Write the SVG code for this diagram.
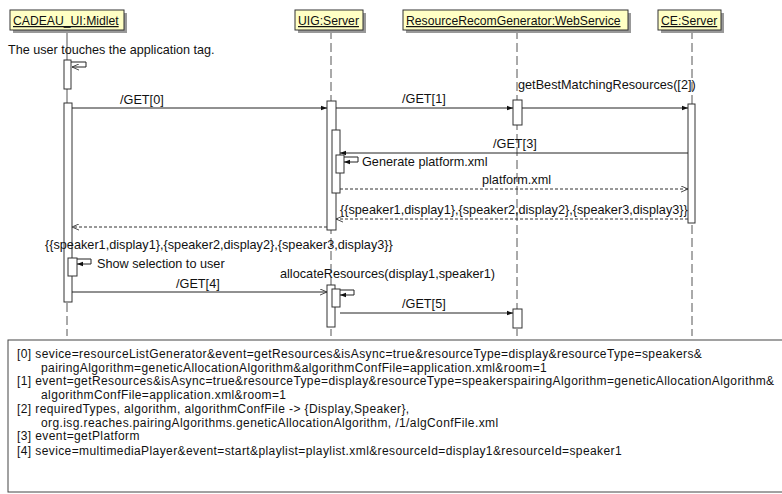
<svg xmlns="http://www.w3.org/2000/svg" width="782" height="494" viewBox="0 0 782 494">
<style>
text{font-family:"Liberation Sans",Arial,sans-serif;fill:#111}
.hd{font-size:12.2px;text-decoration:underline}
.lb{font-size:12.7px}
.nt{font-size:12px;letter-spacing:0.4px}
.life{stroke:#555;stroke-width:1;stroke-dasharray:9,4;fill:none}
.act{fill:#fff;stroke:#333;stroke-width:1}
.msg{stroke:#222;stroke-width:1;fill:none}
.ret{stroke:#333;stroke-width:1;stroke-dasharray:3,2;fill:none}
.box{fill:#ffffc4;stroke:#333;stroke-width:1}
.shd{fill:#999}
</style>
<defs>
<marker id="fa" viewBox="0 0 8 8" refX="8" refY="4" markerWidth="6" markerHeight="6" orient="auto" markerUnits="userSpaceOnUse">
<path d="M0,1 L8,4 L0,7 z" fill="#111"/>
</marker>
<marker id="oa" viewBox="0 0 8 8" refX="8" refY="4" markerWidth="7" markerHeight="7" orient="auto" markerUnits="userSpaceOnUse">
<path d="M0,0.5 L8,4 L0,7.5" fill="none" stroke="#333" stroke-width="1"/>
</marker>
</defs>
<rect width="782" height="494" fill="#fff"/>
<g id="lifelines">
<line class="life" x1="67" y1="30" x2="67" y2="103" style="stroke-dasharray:none"/>
<line class="life" x1="67" y1="303" x2="67" y2="336"/>
<line class="life" x1="331" y1="30" x2="331" y2="336"/>
<line class="life" x1="517" y1="30" x2="517" y2="336"/>
<line class="life" x1="692" y1="30" x2="692" y2="336"/>
</g>
<g id="midlet">
<rect class="shd" x="13" y="13" width="114" height="20"/>
<rect class="box" x="10" y="10" width="114" height="20"/>
<text class="hd" x="13" y="25">CADEAU_UI:Midlet</text>
</g>
<g id="uig">
<rect class="shd" x="298" y="13" width="68" height="20"/>
<rect class="box" x="295" y="10" width="68" height="20"/>
<text class="hd" x="298" y="25">UIG:Server</text>
</g>
<g id="webservice">
<rect class="shd" x="406" y="13" width="225" height="20"/>
<rect class="box" x="403" y="10" width="225" height="20"/>
<text class="hd" x="406" y="25">ResourceRecomGenerator:WebService</text>
</g>
<g id="ce">
<rect class="shd" x="661" y="13" width="63" height="20"/>
<rect class="box" x="658" y="10" width="63" height="20"/>
<text class="hd" x="661" y="25">CE:Server</text>
</g>
<text class="lb" x="8" y="54" style="font-size:12.6px">The user touches the application tag.</text>
<g id="activations">
<rect class="act" x="64" y="60" width="7" height="29"/>
<rect class="act" x="64" y="103" width="8" height="199"/>
<rect class="act" x="68" y="258" width="9" height="18"/>
<rect class="act" x="327" y="101" width="9" height="129"/>
<rect class="act" x="332" y="130" width="8" height="63"/>
<rect class="act" x="336" y="155" width="8" height="18"/>
<rect class="act" x="327" y="285" width="8" height="42"/>
<rect class="act" x="332" y="289" width="8" height="18"/>
<rect class="act" x="513" y="100" width="9" height="25"/>
<rect class="act" x="513" y="309" width="9" height="19"/>
<rect class="act" x="688" y="104" width="7" height="119"/>
</g>
<g id="connectors">
<path class="msg" d="M71,62 H86 V67 H72" marker-end="url(#oa)"/>
<line class="msg" x1="72" y1="108" x2="327" y2="108" marker-end="url(#fa)"/>
<line class="msg" x1="336" y1="108" x2="513" y2="108" marker-end="url(#fa)"/>
<line class="msg" x1="522" y1="108" x2="688" y2="108" marker-end="url(#fa)"/>
<line class="msg" x1="688" y1="153" x2="340" y2="153" marker-end="url(#fa)"/>
<path class="msg" d="M344,157 H358 V162 H344" marker-end="url(#fa)"/>
<line class="ret" x1="340" y1="189" x2="688" y2="189" marker-end="url(#oa)"/>
<line class="ret" x1="688" y1="219" x2="336" y2="219" marker-end="url(#oa)"/>
<line class="ret" x1="327" y1="227" x2="72" y2="227" marker-end="url(#oa)"/>
<path class="msg" d="M77,259 H91 V264 H77" marker-end="url(#fa)"/>
<line class="msg" x1="72" y1="292" x2="327" y2="292" marker-end="url(#oa)"/>
<path class="msg" d="M340,290 H354 V295 H340" marker-end="url(#fa)"/>
<line class="msg" x1="340" y1="313" x2="513" y2="313" marker-end="url(#fa)"/>
</g>
<g id="labels">
<text class="lb" x="120" y="104">/GET[0]</text>
<text class="lb" x="402" y="103">/GET[1]</text>
<text class="lb" x="518" y="89">getBestMatchingResources([2])</text>
<text class="lb" x="493" y="148">/GET[3]</text>
<text class="lb" x="362" y="166">Generate platform.xml</text>
<text class="lb" x="482" y="184">platform.xml</text>
<text class="lb" x="340" y="214">{{speaker1,display1},{speaker2,display2},{speaker3,display3}}</text>
<text class="lb" x="45" y="249">{{speaker1,display1},{speaker2,display2},{speaker3,display3}}</text>
<text class="lb" x="97" y="268">Show selection to user</text>
<text class="lb" x="280" y="278">allocateResources(display1,speaker1)</text>
<text class="lb" x="176" y="288">/GET[4]</text>
<text class="lb" x="402" y="308">/GET[5]</text>
</g>
<g id="note">
<rect x="8" y="340" width="780" height="152" fill="#fff" stroke="#444" stroke-width="1"/>
<text class="nt" x="17" y="358">[0] sevice=resourceListGenerator&amp;event=getResources&amp;isAsync=true&amp;resourceType=display&amp;resourceType=speakers&amp;</text>
<text class="nt" x="41" y="372">pairingAlgorithm=geneticAllocationAlgorithm&amp;algorithmConfFile=application.xml&amp;room=1</text>
<text class="nt" x="17" y="385">[1] event=getResources&amp;isAsync=true&amp;resourceType=display&amp;resourceType=speakerspairingAlgorithm=geneticAllocationAlgorithm&amp;</text>
<text class="nt" x="41" y="399">algorithmConfFile=application.xml&amp;room=1</text>
<text class="nt" x="17" y="413">[2] requiredTypes, algorithm, algorithmConfFile -&gt; {Display,Speaker},</text>
<text class="nt" x="41" y="427">org.isg.reaches.pairingAlgorithms.geneticAllocationAlgorithm,  /1/algConfFile.xml</text>
<text class="nt" x="17" y="440">[3] event=getPlatform</text>
<text class="nt" x="17" y="455">[4] sevice=multimediaPlayer&amp;event=start&amp;playlist=playlist.xml&amp;resourceId=display1&amp;resourceId=speaker1</text>
</g>
</svg>
